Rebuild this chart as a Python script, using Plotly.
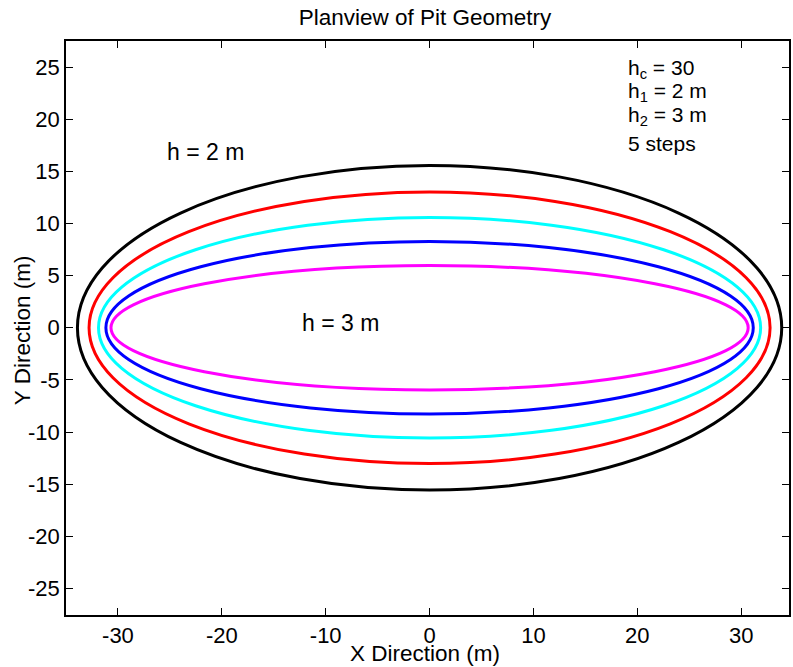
import plotly.graph_objects as go

# Pit outline contours (ellipses), outermost to innermost
colors = ["black", "red", "#00FFFF", "blue", "#FF00FF"]
semi_x = [33.9, 32.78, 31.87, 31.16, 30.67]   # half-length in X (m)
semi_y = [15.56, 13.03, 10.58, 8.27, 5.96]    # half-width in Y (m)

x_ticks = [-30, -20, -10, 0, 10, 20, 30]
y_ticks = [-25, -20, -15, -10, -5, 0, 5, 10, 15, 20, 25]

info_lines = ["h<sub>c</sub> = 30", "h<sub>1</sub> = 2 m", "h<sub>2</sub> = 3 m", "5 steps"]
info_y = [0.952, 0.911, 0.869, 0.821]

FAM = "Liberation Sans, Arial, Helvetica, sans-serif"

fig = go.Figure()
fig.add_trace(go.Scatter(x=[0], y=[0], mode="markers", marker=dict(opacity=0),
                         showlegend=False, hoverinfo="skip"))

shapes = []
for c, a, b in zip(colors, semi_x, semi_y):
    shapes.append(dict(type="circle", xref="x", yref="y",
                       x0=-a, x1=a, y0=-b, y1=b,
                       line=dict(color=c, width=3)))

tickfont = dict(family=FAM, size=22, color="black")
axis_common = dict(showgrid=False, zeroline=False, showline=True, linecolor="black",
                   linewidth=1.5, mirror="ticks", ticks="inside", ticklen=7,
                   tickcolor="black", tickfont=tickfont)

annotations = [
    dict(x=-21.56, y=16.86, xref="x", yref="y", text="h = 2 m", showarrow=False,
         font=dict(family=FAM, size=23, color="black")),
    dict(x=-8.6, y=0.46, xref="x", yref="y", text="h = 3 m", showarrow=False,
         font=dict(family=FAM, size=23, color="black")),
    dict(x=-0.0606, y=0.4965, xref="paper", yref="paper", text="Y Direction (m)",
         textangle=-90, showarrow=False, xanchor="center", yanchor="middle",
         font=dict(family=FAM, size=22.5, color="black")),
    dict(x=0.4966, y=-0.067, xref="paper", yref="paper", text="X Direction (m)",
         showarrow=False, xanchor="center", yanchor="middle",
         font=dict(family=FAM, size=22.5, color="black")),
]
for txt, yp in zip(info_lines, info_y):
    annotations.append(dict(x=0.7752, y=yp, xref="paper", yref="paper", text=txt,
                            showarrow=False, xanchor="left", yanchor="middle", align="left",
                            font=dict(family=FAM, size=21, color="black")))

fig.update_layout(
    width=793, height=667,
    margin=dict(l=66, r=2, t=41, b=52),
    plot_bgcolor="white", paper_bgcolor="white",
    shapes=shapes,
    showlegend=False,
    title=dict(text="Planview of Pit Geometry", x=0.4966, xref="paper", xanchor="center",
               y=0.9745, yref="container", yanchor="middle",
               font=dict(family=FAM, size=22.5, color="black")),
    xaxis=dict(range=[-35, 34.6], tickvals=x_ticks, ticktext=[str(v) for v in x_ticks],
               **axis_common),
    yaxis=dict(range=[-27.55, 27.5], tickvals=y_ticks, ticktext=[str(v) for v in y_ticks],
               **axis_common),
    annotations=annotations,
)

fig.write_html("out.html")
